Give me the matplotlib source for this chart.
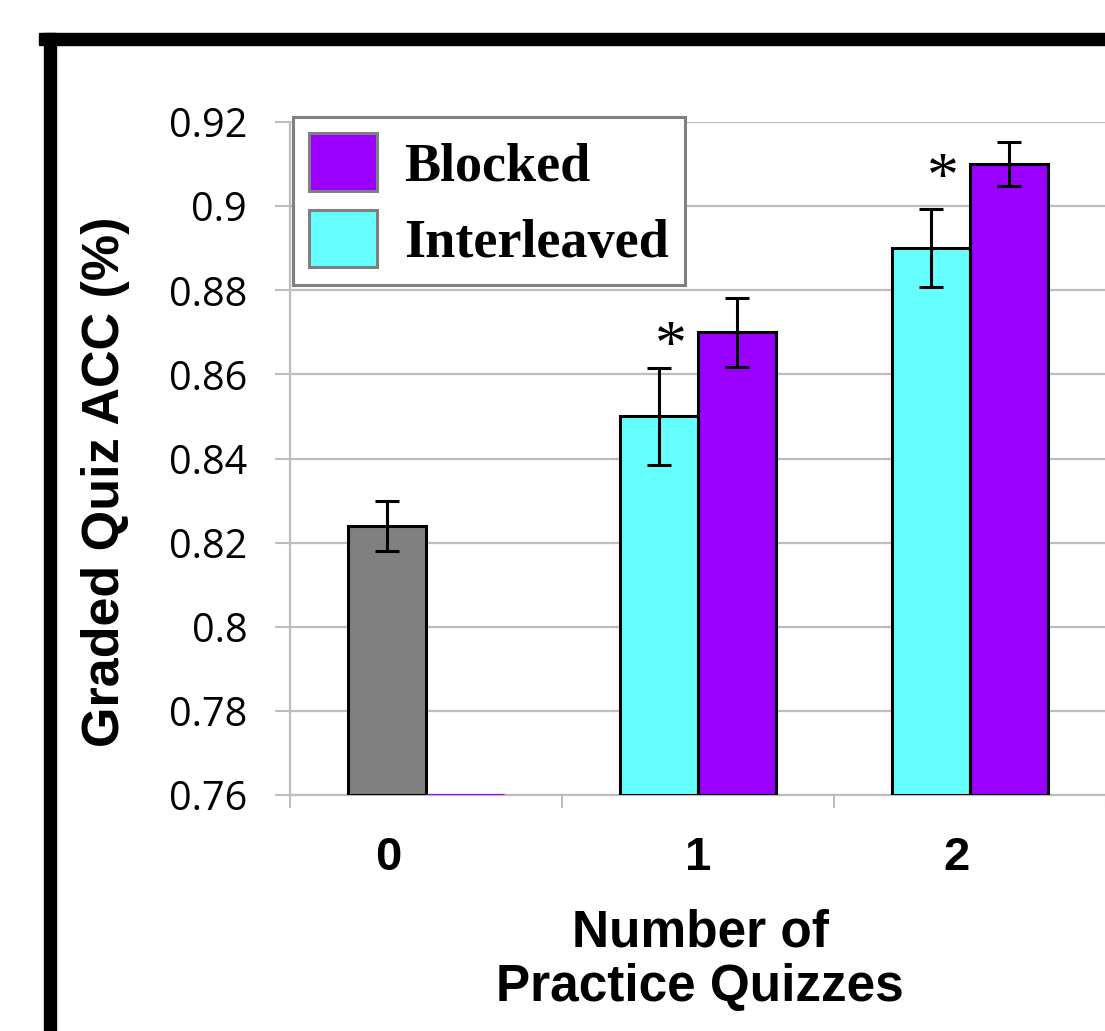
import numpy as np
import matplotlib
matplotlib.use('Agg')
from matplotlib import pyplot as plt
from matplotlib.patches import Rectangle

# data
categories = ['0', '1', '2']
blocked = [0.76, 0.87, 0.91]
blocked_err = [0.0, 0.0082, 0.0053]
interleaved = [np.nan, 0.85, 0.89]
interleaved_err = [0.0, 0.0115, 0.0093]
control = [0.824, np.nan, np.nan]
control_err = [0.006, 0.0, 0.0]
significant = [False, True, True]
y_ticks = [0.76, 0.78, 0.80, 0.82, 0.84, 0.86, 0.88, 0.90, 0.92]
y_tick_labels = ['0.76', '0.78', '0.8', '0.82', '0.84', '0.86', '0.88', '0.9', '0.92']
label_shift = [-0.14, 0.0, -0.05]

PURPLE = '#9900FF'
CYAN = '#66FFFF'
GRAY = '#808080'
GRID = '#BDBDBD'
base = y_ticks[0]

W, H = 1105, 1031
fig = plt.figure(figsize=(W / 100, H / 100), dpi=100)
ax = fig.add_axes([290 / W, 1 - 795 / H, 816 / W, 673 / H])

x = np.arange(len(categories))
bw = 0.287
off = 0.1435


def draw(xpos, vals, errs, color, edge, label=None):
    vals = np.asarray(vals, dtype=float)
    ok = ~np.isnan(vals)
    ax.bar(xpos[ok], vals[ok] - base, bottom=base, width=bw, color=color,
           edgecolor=[e for e, k in zip(edge, ok) if k], linewidth=2.2,
           label=label, zorder=3)
    errs = np.asarray(errs)
    has = ok & (errs > 0)
    ax.errorbar(xpos[has], vals[has], yerr=errs[has], fmt='none', ecolor='black',
                elinewidth=2.2, capsize=8.5, capthick=2.2, zorder=4)


draw(x - off, control, control_err, GRAY, ['black'] * 3)
draw(x - off, interleaved, interleaved_err, CYAN, ['black'] * 3, 'Interleaved')
draw(x + off, blocked, blocked_err, PURPLE, [PURPLE, 'black', 'black'], 'Blocked')

for i, sig in enumerate(significant):
    if sig:
        ax.annotate('*', xy=(x[i] - 0.10, blocked[i]), xytext=(0, -12),
                    textcoords='offset points', ha='center', va='center',
                    fontsize=46, family='Liberation Serif', zorder=5)

ax.set_xlim(-0.5, 2.5)
ax.set_ylim(base, 0.92)
ax.set_yticks(y_ticks)
ax.set_yticklabels(y_tick_labels, family='Open Sans', fontsize=28.5)
ax.set_xticks(np.arange(-0.5, 3, 1))
ax.set_xticklabels([])
ax.tick_params(axis='y', length=10.8, width=1.5, color=GRID, pad=20)
ax.tick_params(axis='x', length=9, width=1.5, color=GRID)
ax.grid(axis='y', color=GRID, linewidth=1.6, zorder=0)
for s in ['top', 'right']:
    ax.spines[s].set_visible(False)
for s in ['left', 'bottom']:
    ax.spines[s].set_color(GRID)
    ax.spines[s].set_linewidth(1.6)

for i, c in enumerate(categories):
    ax.annotate(c, xy=(x[i] + label_shift[i], 0), xycoords=('data', 'axes fraction'),
                xytext=(0, -45), textcoords='offset points', ha='center', va='center',
                fontsize=34, fontweight='bold', family='Liberation Sans')

fig.text(700 / W, 1 - 960 / H, 'Number of\nPractice Quizzes', ha='center', va='center',
         multialignment='center', fontsize=37, fontweight='bold',
         family='Liberation Sans', linespacing=1.15)
fig.text(105 / W, 1 - 482 / H, 'Graded Quiz ACC (%)', rotation=90, ha='center',
         va='center', fontsize=37.5, fontweight='bold', family='Liberation Sans')

handles, labels = ax.get_legend_handles_labels()
leg = ax.legend(handles[::-1], labels[::-1], loc='upper left',
                bbox_to_anchor=(293 / W, 1 - 117 / H), bbox_transform=fig.transFigure,
                prop={'family': 'Liberation Serif', 'weight': 'bold', 'size': 39},
                handlelength=1.25, handleheight=1.25, handletextpad=0.5,
                labelspacing=0.33, borderpad=0.3, borderaxespad=0,
                fancybox=False, framealpha=1)
leg.get_frame().set_edgecolor(GRAY)
leg.get_frame().set_linewidth(2.2)
leg.set_zorder(6)
for p in leg.get_patches():
    p.set_edgecolor(GRAY)
    p.set_linewidth(2.2)

# black frame around the picture (top and left edges)
fig.patches.append(Rectangle((39 / W, 1 - 45 / H), 1, 12 / H, transform=fig.transFigure,
                             color='black', zorder=10))
fig.patches.append(Rectangle((44 / W, 0), 12 / W, 1 - 33 / H, transform=fig.transFigure,
                             color='black', zorder=10))

fig.savefig('out.png', dpi=100)
